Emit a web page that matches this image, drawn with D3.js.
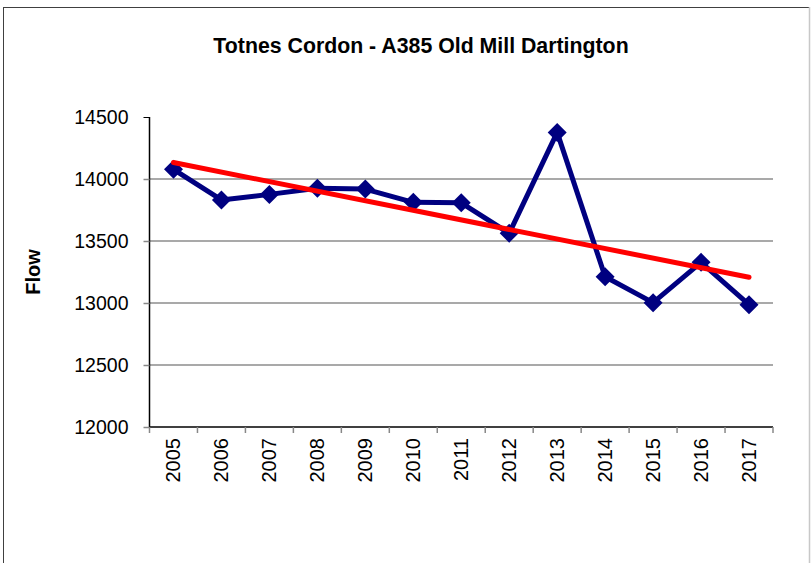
<!DOCTYPE html>
<html><head><meta charset="utf-8">
<script src="https://cdn.jsdelivr.net/npm/d3@7/dist/d3.min.js"></script>
<style>body{margin:0;background:#fff}svg{display:block}text{font-family:"Liberation Sans",Arial,sans-serif}</style>
</head><body>
<svg id="c" width="811" height="563"></svg>
<script>
const years = ["2005","2006","2007","2008","2009","2010","2011","2012","2013","2014","2015","2016","2017"];
const flow = [14078,13831,13876,13925,13919,13812,13808,13562,14376,13212,13003,13328,12986];
const yTicks = [12000,12500,13000,13500,14000,14500];
const title = "Totnes Cordon - A385 Old Mill Dartington";
const yLabel = "Flow";

const svg = d3.select("#c");
const L=149.5, R=773, T=117, B=427;
svg.append("rect").attr("x",3.5).attr("y",7.5).attr("width",806).attr("height",600)
  .attr("fill","#fff").attr("stroke","#404040").attr("stroke-width",1);
svg.append("line").attr("x1",809.5).attr("x2",809.5).attr("y1",7).attr("y2",563).attr("stroke","#c8c8c8").attr("stroke-width",1.5);

const x = d3.scaleBand().domain(years).range([L,R]);
const y = d3.scaleLinear().domain([12000,14500]).range([B,T]);

// gridlines
svg.append("g").selectAll("line").data(yTicks.filter(t=>t>12000 && t<14500)).join("line")
  .attr("x1",L).attr("x2",R).attr("y1",d=>y(d)).attr("y2",d=>y(d))
  .attr("stroke","#8c8c8c").attr("stroke-width",1.5);

// y axis
const ya = svg.append("g").attr("transform",`translate(${L},0)`)
  .call(d3.axisLeft(y).tickValues(yTicks).tickSize(6).tickPadding(15).tickFormat(d3.format("d")));
ya.select(".domain").attr("stroke","#000").attr("stroke-width",1.5).attr("d",`M0,${T}V${B}`);
ya.selectAll(".tick line").attr("stroke","#888").attr("stroke-width",1.5);
ya.selectAll(".tick text").attr("font-size",19.5).attr("fill","#000");
ya.select(".tick:last-of-type line").attr("stroke","#000").attr("stroke-width",1);

// x axis
const xa = svg.append("g").attr("transform",`translate(0,${B})`)
  .call(d3.axisBottom(x).tickSize(0).tickPadding(0));
xa.select(".domain").attr("stroke","#000").attr("stroke-width",1.5).attr("d",`M${L},0H${R}`);
xa.selectAll(".tick text").attr("font-size",20).attr("fill","#000")
  .attr("transform","rotate(-90)").attr("text-anchor","end")
  .attr("x",-11).attr("y",0).attr("dy","0.35em");
// boundary ticks
const bounds = years.map(d=>x(d)).concat([R]);
svg.append("g").selectAll("line").data(bounds).join("line")
  .attr("x1",d=>d).attr("x2",d=>d).attr("y1",B).attr("y2",B+6)
  .attr("stroke","#888").attr("stroke-width",1.5);

const cx = d=>x(d)+x.bandwidth()/2;

// data line
const line = d3.line().x((d,i)=>cx(years[i])).y(d=>y(d));
svg.append("path").datum(flow).attr("d",line).attr("fill","none")
  .attr("stroke","#000080").attr("stroke-width",5).attr("stroke-linejoin","round");
svg.append("g").selectAll("path").data(flow).join("path")
  .attr("transform",(d,i)=>`translate(${cx(years[i])},${y(d)})`)
  .attr("d","M0,-9.5L9.5,0L0,9.5L-9.5,0Z").attr("fill","#000080");

// linear trendline (least squares on data)
const n=flow.length, xs=d3.range(n);
const mx=d3.mean(xs), my=d3.mean(flow);
const slope=d3.sum(xs,i=>(i-mx)*(flow[i]-my))/d3.sum(xs,i=>(i-mx)*(i-mx));
const icpt=my-slope*mx;
svg.append("line")
  .attr("x1",cx(years[0])).attr("y1",y(icpt))
  .attr("x2",cx(years[n-1])).attr("y2",y(icpt+slope*(n-1)))
  .attr("stroke","#ff0000").attr("stroke-width",5).attr("stroke-linecap","round");

svg.append("text").attr("x",421).attr("y",53).attr("text-anchor","middle")
  .attr("font-size",21.3).attr("font-weight","bold").text(title);
svg.append("text").attr("transform","translate(40,272) rotate(-90)").attr("text-anchor","middle")
  .attr("font-size",20).attr("font-weight","bold").text(yLabel);
</script>
</body></html>
